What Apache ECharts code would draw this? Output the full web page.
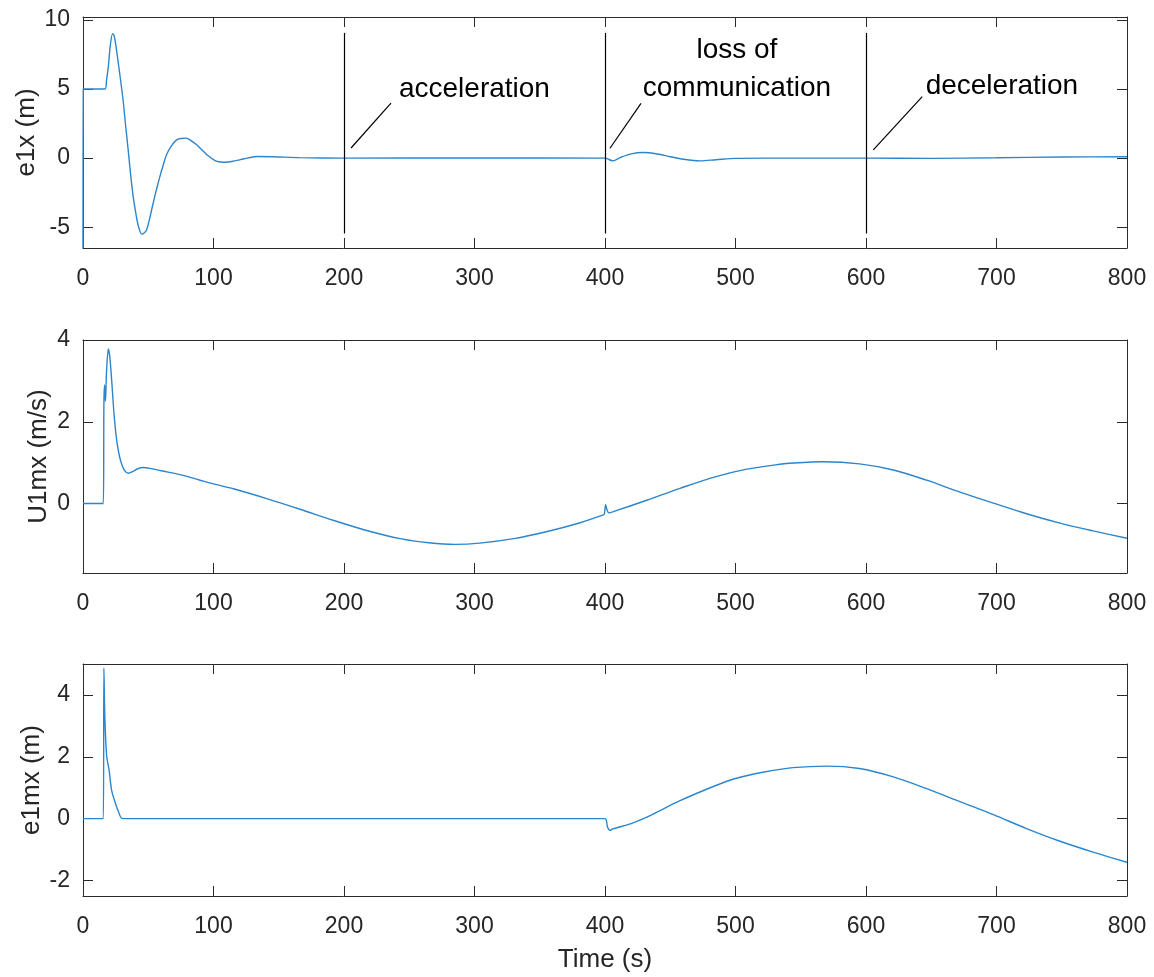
<!DOCTYPE html>
<html>
<head>
<meta charset="utf-8">
<script src="https://cdn.jsdelivr.net/npm/echarts@6/dist/echarts.min.js"></script>
<style>
  html, body { margin: 0; padding: 0; background: #fff; }
  #chart { width: 1154px; height: 977px; }
</style>
</head>
<body>
<div id="chart"></div>
<script>
// e1x (m) - top panel
const e1xTime = [0, 0.2, 16.9, 18, 19.4, 21, 22.7, 24, 25.7, 28, 30.7, 32.5, 34.6, 36.5, 38.5, 40.5, 42.4, 45, 47, 48.7,
  51, 53.9, 56.5, 59, 61.5, 64, 67.5, 71.7, 75, 79, 83, 87.1, 91, 95, 99, 102.7, 108, 115.2, 122.8, 133, 145.8, 166,
  200, 300, 400, 403, 406, 412, 420, 429, 440, 450, 460, 473, 485, 500, 550, 600, 650, 700, 750, 800];
const e1xVal = [-6.5, 5.0, 5.0, 5.6, 6.6, 8.2, 9.0, 8.8, 7.8, 6.2, 4.2, 2.5, 0.6, -1.2, -2.8, -4.0, -4.9, -5.5, -5.4, -5.2,
  -4.4, -3.2, -2.2, -1.3, -0.5, 0.24, 0.85, 1.32, 1.42, 1.44, 1.25, 0.96, 0.6, 0.24, -0.05, -0.24, -0.3, -0.22, -0.07, 0.12, 0.1, 0.03,
  0, 0.01, 0, -0.1, -0.2, 0.05, 0.3, 0.4, 0.3, 0.1, -0.08, -0.2, -0.12, -0.02, 0, 0, -0.02, 0.02, 0.08, 0.1];

// U1mx (m/s) - middle panel
const u1mxTime = [0, 15.6, 16, 16.5, 17.2, 18, 19.4, 20.5, 22, 24, 26, 28, 30, 32, 34.7, 38, 42, 46, 51.3, 60, 75, 89.7,
  100, 115.2, 140.8, 166.3, 191.8, 217.4, 243, 265, 285, 304, 330, 355, 381, 398.7, 399.5, 400.5, 401.5, 403, 406.4,
  432, 457.5, 483, 508.6, 534, 544, 567, 595, 621, 646.5, 672, 697.6, 723, 748.7, 774, 800];
const u1mxVal = [0, 0, 2.4, 2.9, 2.5, 3.2, 3.78, 3.6, 3.0, 2.1, 1.5, 1.15, 0.93, 0.8, 0.74, 0.78, 0.85, 0.88, 0.86, 0.8, 0.7, 0.57,
  0.48, 0.36, 0.12, -0.14, -0.41, -0.66, -0.86, -0.96, -1.0, -0.97, -0.86, -0.69, -0.47, -0.28, -0.26, -0.03, -0.15, -0.23, -0.2,
  0.08, 0.37, 0.64, 0.84, 0.96, 0.99, 1.02, 0.97, 0.82, 0.57, 0.28, 0.01, -0.25, -0.48, -0.67, -0.85];

// e1mx (m) - bottom panel
const e1mxTime = [0, 15.6, 16, 16.8, 18.2, 20, 21.9, 24.5, 27, 30.4, 100, 200, 300, 400, 401, 402, 404, 406,
  420, 432, 457.5, 483, 500, 521, 544, 570, 595, 621, 646.5, 672, 697.6, 723, 748.7, 774, 800];
const e1mxVal = [0, 0, 4.87, 3.2, 2.0, 1.57, 0.92, 0.54, 0.25, 0, 0, 0, 0, 0, -0.05, -0.28, -0.38, -0.33,
  -0.16, 0.05, 0.58, 1.04, 1.3, 1.5, 1.65, 1.7, 1.62, 1.35, 0.97, 0.55, 0.13, -0.32, -0.73, -1.08, -1.41];

const e1xTicks = [-5, 0, 5, 10];
const u1mxTicks = [0, 2, 4];
const e1mxTicks = [-2, 0, 2, 4];

// event markers in top panel
const eventTimes = [200, 400, 600];
const eventSpan = [-5.45, 9.05];
const annoText = ['acceleration', 'loss of\ncommunication', 'deceleration'];
const annoAt = [[242.1, 5.0], [501.1, 6.45], [645.7, 5.21]];
const leaderFrom = [[205.4, 0.73], [403.8, 0.71], [605.6, 0.59]];
const leaderTo = [[236.0, 3.98], [427.6, 3.96], [643.1, 4.44]];

const pairs = (t, v) => t.map((x, i) => [x, v[i]]);

const FONT = '"Liberation Sans", Arial, sans-serif';
const AXIS = '#2b2b2b';
const LINE = '#2a86cf';

const chart = echarts.init(document.getElementById('chart'), null, { renderer: 'canvas' });

const panels = [
  { top: 17, height: 231, min: -6.5, max: 10.2, ticks: e1xTicks, name: 'e1x (m)', gap: 43 },
  { top: 340, height: 233, min: -1.7, max: 4, ticks: u1mxTicks, name: 'U1mx (m/s)', gap: 31 },
  { top: 664, height: 232, min: -2.5, max: 5, ticks: e1mxTicks, name: 'e1mx (m)', gap: 38 }
];

const grid = [], xAxis = [], yAxis = [];
panels.forEach((p, i) => {
  grid.push({ left: 83, right: 27, top: p.top, height: p.height, show: false });
  const xBase = {
    type: 'value', gridIndex: i, min: 0, max: 800, interval: 100,
    axisLine: { show: true, onZero: false, lineStyle: { color: AXIS, width: 1 } },
    axisTick: { show: true, inside: true, length: 10, lineStyle: { color: AXIS } },
    splitLine: { show: false }
  };
  xAxis.push(Object.assign({}, xBase, {
    position: 'bottom',
    axisLabel: { show: true, fontSize: 23, color: '#262626', fontFamily: FONT, margin: 19 },
    name: i === 2 ? 'Time (s)' : '',
    nameLocation: 'middle', nameGap: 51, nameMoveOverlap: false,
    nameTextStyle: { fontSize: 26, color: '#262626', fontFamily: FONT }
  }));
  xAxis.push(Object.assign({}, xBase, { position: 'top', axisLabel: { show: false } }));
  const yBase = {
    type: 'value', gridIndex: i, min: p.min, max: p.max,
    axisLine: { show: true, onZero: false, lineStyle: { color: AXIS, width: 1 } },
    axisTick: { show: true, inside: true, length: 10, customValues: p.ticks, lineStyle: { color: AXIS } },
    splitLine: { show: false }
  };
  yAxis.push(Object.assign({}, yBase, {
    position: 'left',
    axisLabel: { show: true, customValues: p.ticks, fontSize: 23, color: '#262626', fontFamily: FONT, margin: 13 },
    name: p.name, nameLocation: 'middle', nameGap: p.gap, nameRotate: 90, nameMoveOverlap: false,
    nameTextStyle: { fontSize: 26, color: '#262626', fontFamily: FONT }
  }));
  yAxis.push(Object.assign({}, yBase, { position: 'right', axisLabel: { show: false } }));
});

const eventLines = eventTimes.map(t => [{ coord: [t, eventSpan[0]] }, { coord: [t, eventSpan[1]] }]);
const leaderLines = leaderFrom.map((a, i) => [{ coord: a }, { coord: leaderTo[i] }]);

const annoPoints = annoText.map((txt, i) => ({
  name: txt,
  coord: annoAt[i],
  label: i === 1
    ? { position: 'inside', align: 'center', verticalAlign: 'middle' }
    : { position: 'right', distance: 0 }
}));

const seriesBase = {
  type: 'line', showSymbol: false, symbol: 'none', smooth: 0.3, silent: true,
  lineStyle: { color: LINE, width: 1.4 }, itemStyle: { color: LINE }
};

const option = {
  backgroundColor: '#ffffff',
  animation: false,
  textStyle: { fontFamily: FONT },
  grid, xAxis, yAxis,
  series: [
    Object.assign({}, seriesBase, {
      xAxisIndex: 0, yAxisIndex: 0, data: pairs(e1xTime, e1xVal),
      markLine: {
        silent: true, symbol: ['none', 'none'], animation: false,
        label: { show: false },
        lineStyle: { color: '#000', width: 1.2, type: 'solid' },
        emphasis: { disabled: true },
        data: eventLines.concat(leaderLines)
      },
      markPoint: {
        silent: true, symbol: 'circle', symbolSize: 0, animation: false,
        label: {
          show: true, formatter: '{b}', fontSize: 28, lineHeight: 38,
          color: '#000', fontFamily: FONT
        },
        data: annoPoints
      }
    }),
    Object.assign({}, seriesBase, { xAxisIndex: 2, yAxisIndex: 2, data: pairs(u1mxTime, u1mxVal) }),
    Object.assign({}, seriesBase, { xAxisIndex: 4, yAxisIndex: 4, data: pairs(e1mxTime, e1mxVal) })
  ]
};

chart.setOption(option);
</script>
</body>
</html>
